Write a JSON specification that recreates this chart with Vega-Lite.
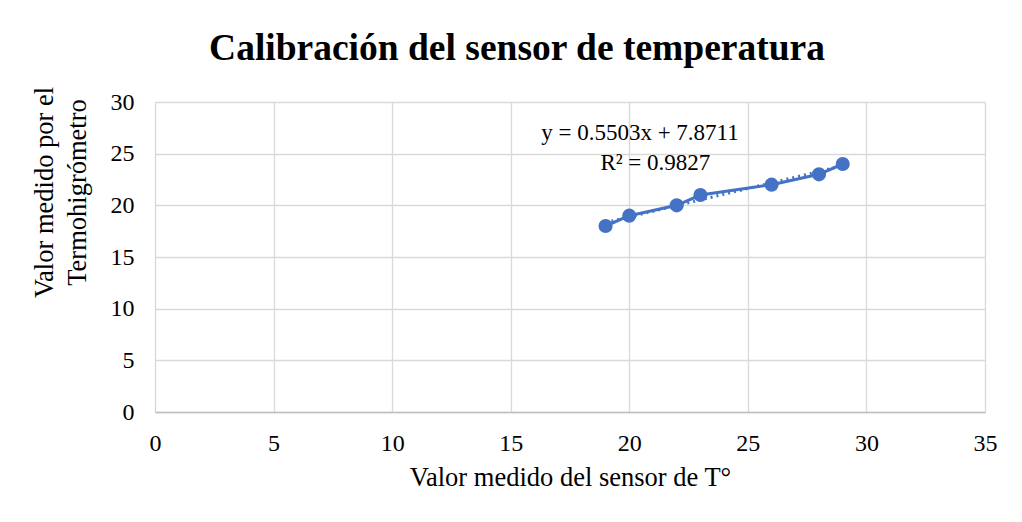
{
  "$schema": "https://vega.github.io/schema/vega-lite/v6.json",
  "width": 830,
  "height": 310,
  "autosize": {"type": "none"},
  "padding": {"left": 155, "top": 102, "right": 37, "bottom": 110},
  "background": "white",
  "config": {
    "font": "Liberation Serif",
    "view": {"stroke": null},
    "axis": {
      "labelFont": "Liberation Serif",
      "titleFont": "Liberation Serif",
      "labelFontSize": 24,
      "titleFontSize": 26.5,
      "labelColor": "#000000",
      "titleColor": "#000000",
      "titleFontWeight": "normal",
      "gridColor": "#d9d9d9",
      "gridWidth": 1.3,
      "ticks": false,
      "labelFlush": false
    }
  },
  "title": {
    "text": "Calibración del sensor de temperatura",
    "font": "Liberation Serif",
    "fontSize": 37.5,
    "fontWeight": "bold",
    "color": "#000000",
    "anchor": "middle",
    "dx": -53,
    "offset": 19
  },
  "datasets": {
    "pts": [
      {"sensor": 19, "termo": 18},
      {"sensor": 20, "termo": 19},
      {"sensor": 22, "termo": 20},
      {"sensor": 23, "termo": 21},
      {"sensor": 26, "termo": 22},
      {"sensor": 28, "termo": 23},
      {"sensor": 29, "termo": 24}
    ],
    "eq": [
      {"sensor": 20.45, "termo": 27.0, "label": "y = 0.5503x + 7.8711"},
      {"sensor": 21.1, "termo": 24.1, "label": "R² = 0.9827"}
    ]
  },
  "encoding": {
    "x": {
      "field": "sensor",
      "type": "quantitative",
      "scale": {"domain": [0, 35], "nice": false},
      "axis": {
        "values": [0, 5, 10, 15, 20, 25, 30, 35],
        "title": "Valor medido del sensor de T°",
        "labelPadding": 19,
        "titlePadding": 9,
        "domainColor": "#bfbfbf",
        "domainWidth": 1.5
      }
    },
    "y": {
      "field": "termo",
      "type": "quantitative",
      "scale": {"domain": [0, 30], "nice": false},
      "axis": {
        "values": [0, 5, 10, 15, 20, 25, 30],
        "title": ["Valor medido por el", "Termohigrómetro"],
        "titleLineHeight": 33,
        "titleY": 90,
        "labelPadding": 21,
        "titlePadding": 19,
        "domain": false
      }
    }
  },
  "layer": [
    {
      "data": {"name": "pts"},
      "transform": [{"regression": "termo", "on": "sensor"}],
      "mark": {"type": "line", "color": "#4472c4", "strokeWidth": 3, "strokeDash": [2, 4]}
    },
    {
      "data": {"name": "pts"},
      "mark": {"type": "line", "color": "#4472c4", "strokeWidth": 3,
        "point": {"filled": true, "size": 200, "color": "#4472c4"}}
    },
    {
      "data": {"name": "eq"},
      "mark": {"type": "text", "font": "Liberation Serif", "fontSize": 23, "color": "#000000"},
      "encoding": {"text": {"field": "label"}}
    }
  ]
}
